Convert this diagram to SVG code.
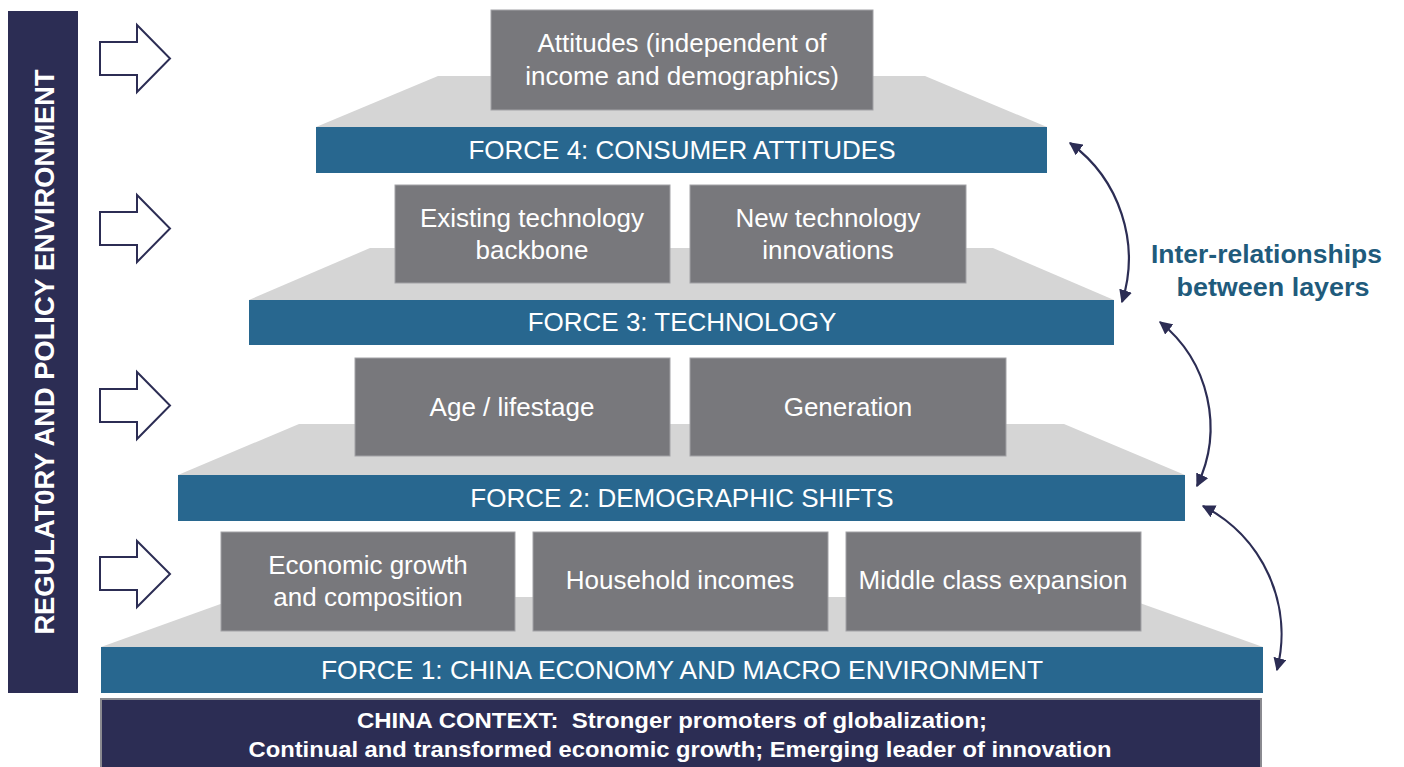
<svg xmlns="http://www.w3.org/2000/svg" width="1404" height="767" viewBox="0 0 1404 767">
<defs>
<style>
.trap{fill:#d5d5d5}
.bar{fill:#28678f}
.box{fill:#78787c;stroke:#a2a2a6;stroke-width:1}
.btxt{font-family:"Liberation Sans",Arial,sans-serif;font-size:26px;fill:#ffffff;text-anchor:middle}
.ftxt{font-family:"Liberation Sans",Arial,sans-serif;font-size:26px;fill:#ffffff;text-anchor:middle}
.arrow{fill:#ffffff;stroke:#2c2d54;stroke-width:2;stroke-linejoin:miter}
.conn{fill:none;stroke:#2c2d54;stroke-width:2.2;marker-start:url(#ah);marker-end:url(#ah)}
</style>
<marker id="ah" viewBox="0 0 10 10" refX="9" refY="5" markerWidth="6" markerHeight="6" orient="auto-start-reverse" markerUnits="strokeWidth">
<path d="M0,0 L10,5 L0,10 z" fill="#2c2d54"/>
</marker>
</defs>
<rect width="1404" height="767" fill="#ffffff"/>

<g id="regulatory">
<rect x="8" y="11" width="70" height="682" fill="#2c2d54"/>
<text transform="translate(54,352) rotate(-90)" font-family="'Liberation Sans',Arial,sans-serif" font-weight="bold" font-size="27.3" fill="#ffffff" text-anchor="middle">REGULAT0RY AND POLICY ENVIRONMENT</text>
</g>

<g id="policy-arrows">
<polygon class="arrow" points="100,42 137,42 137,25 170,58.5 137,92 137,75 100,75"/>
<polygon class="arrow" points="100,212 137,212 137,195 170,228.5 137,262 137,245 100,245"/>
<polygon class="arrow" points="100,389 137,389 137,372 170,405.5 137,439 137,422 100,422"/>
<polygon class="arrow" points="100,557 137,557 137,541 170,574 137,607 137,590 100,590"/>
</g>

<g id="layer-shapes">
<polygon class="trap" points="101,647 240,597 1123,597 1263,647"/>
<polygon class="trap" points="178,475 299,424 1064,424 1185,475"/>
<polygon class="trap" points="249,300 370,248 993,248 1114,300"/>
<polygon class="trap" points="316,127 438,76 925,76 1047,127"/>
</g>

<g id="attitudes">
<rect class="box" x="491" y="10" width="382" height="100"/>
<text class="btxt" x="682" y="52">Attitudes (independent of</text>
<text class="btxt" x="682" y="85">income and demographics)</text>
</g>
<g id="force4">
<rect class="bar" x="316" y="127" width="731" height="46"/>
<text class="ftxt" x="682" y="159">FORCE 4: CONSUMER ATTITUDES</text>
</g>

<g id="existing-tech">
<rect class="box" x="395" y="185" width="275" height="98"/>
<text class="btxt" x="532" y="227">Existing technology</text>
<text class="btxt" x="532" y="259">backbone</text>
</g>
<g id="new-tech">
<rect class="box" x="690" y="185" width="276" height="98"/>
<text class="btxt" x="828" y="227">New technology</text>
<text class="btxt" x="828" y="259">innovations</text>
</g>
<g id="force3">
<rect class="bar" x="249" y="300" width="865" height="45"/>
<text class="ftxt" x="682" y="331">FORCE 3: TECHNOLOGY</text>
</g>

<g id="age">
<rect class="box" x="355" y="358" width="315" height="98"/>
<text class="btxt" x="512" y="416">Age / lifestage</text>
</g>
<g id="generation">
<rect class="box" x="690" y="358" width="316" height="98"/>
<text class="btxt" x="848" y="416">Generation</text>
</g>
<g id="force2">
<rect class="bar" x="178" y="475" width="1007" height="46"/>
<text class="ftxt" x="682" y="507">FORCE 2: DEMOGRAPHIC SHIFTS</text>
</g>

<g id="economic-growth">
<rect class="box" x="221" y="532" width="294" height="99"/>
<text class="btxt" x="368" y="574">Economic growth</text>
<text class="btxt" x="368" y="606">and composition</text>
</g>
<g id="household">
<rect class="box" x="533" y="532" width="295" height="99"/>
<text class="btxt" x="680" y="589">Household incomes</text>
</g>
<g id="middle-class">
<rect class="box" x="846" y="532" width="295" height="99"/>
<text class="btxt" x="993" y="589">Middle class expansion</text>
</g>
<g id="force1">
<rect class="bar" x="101" y="647" width="1162" height="46"/>
<text class="ftxt" x="682" y="679" textLength="722" lengthAdjust="spacingAndGlyphs">FORCE 1: CHINA ECONOMY AND MACRO ENVIRONMENT</text>
</g>

<g id="china-context">
<rect x="101" y="699" width="1160" height="72" fill="#2c2d54" stroke="#8a8a90" stroke-width="2"/>
<text font-family="'Liberation Sans',Arial,sans-serif" font-weight="bold" font-size="21.5" fill="#ffffff" text-anchor="middle">
<tspan x="675" y="728" xml:space="preserve" textLength="630" lengthAdjust="spacingAndGlyphs">CHINA CONTEXT:  Stronger promoters of globalization;</tspan>
<tspan x="680" y="757" textLength="863" lengthAdjust="spacingAndGlyphs">Continual and transformed economic growth; Emerging leader of innovation</tspan>
</text>
</g>

<g id="inter-label">
<text font-family="'Liberation Sans',Arial,sans-serif" font-weight="bold" font-size="25.5" fill="#1f5b7c" text-anchor="middle">
<tspan x="1270" y="263" textLength="231" lengthAdjust="spacingAndGlyphs">Inter-relationships</tspan>
<tspan x="1273" y="296" textLength="193" lengthAdjust="spacingAndGlyphs">between layers</tspan>
</text>
</g>

<g id="connectors">
<path class="conn" d="M1070,143 A143,143 0 0 1 1122,302"/>
<path class="conn" d="M1160,322 A135,135 0 0 1 1197,486"/>
<path class="conn" d="M1203,506 A144,144 0 0 1 1277,670"/>
</g>
</svg>
